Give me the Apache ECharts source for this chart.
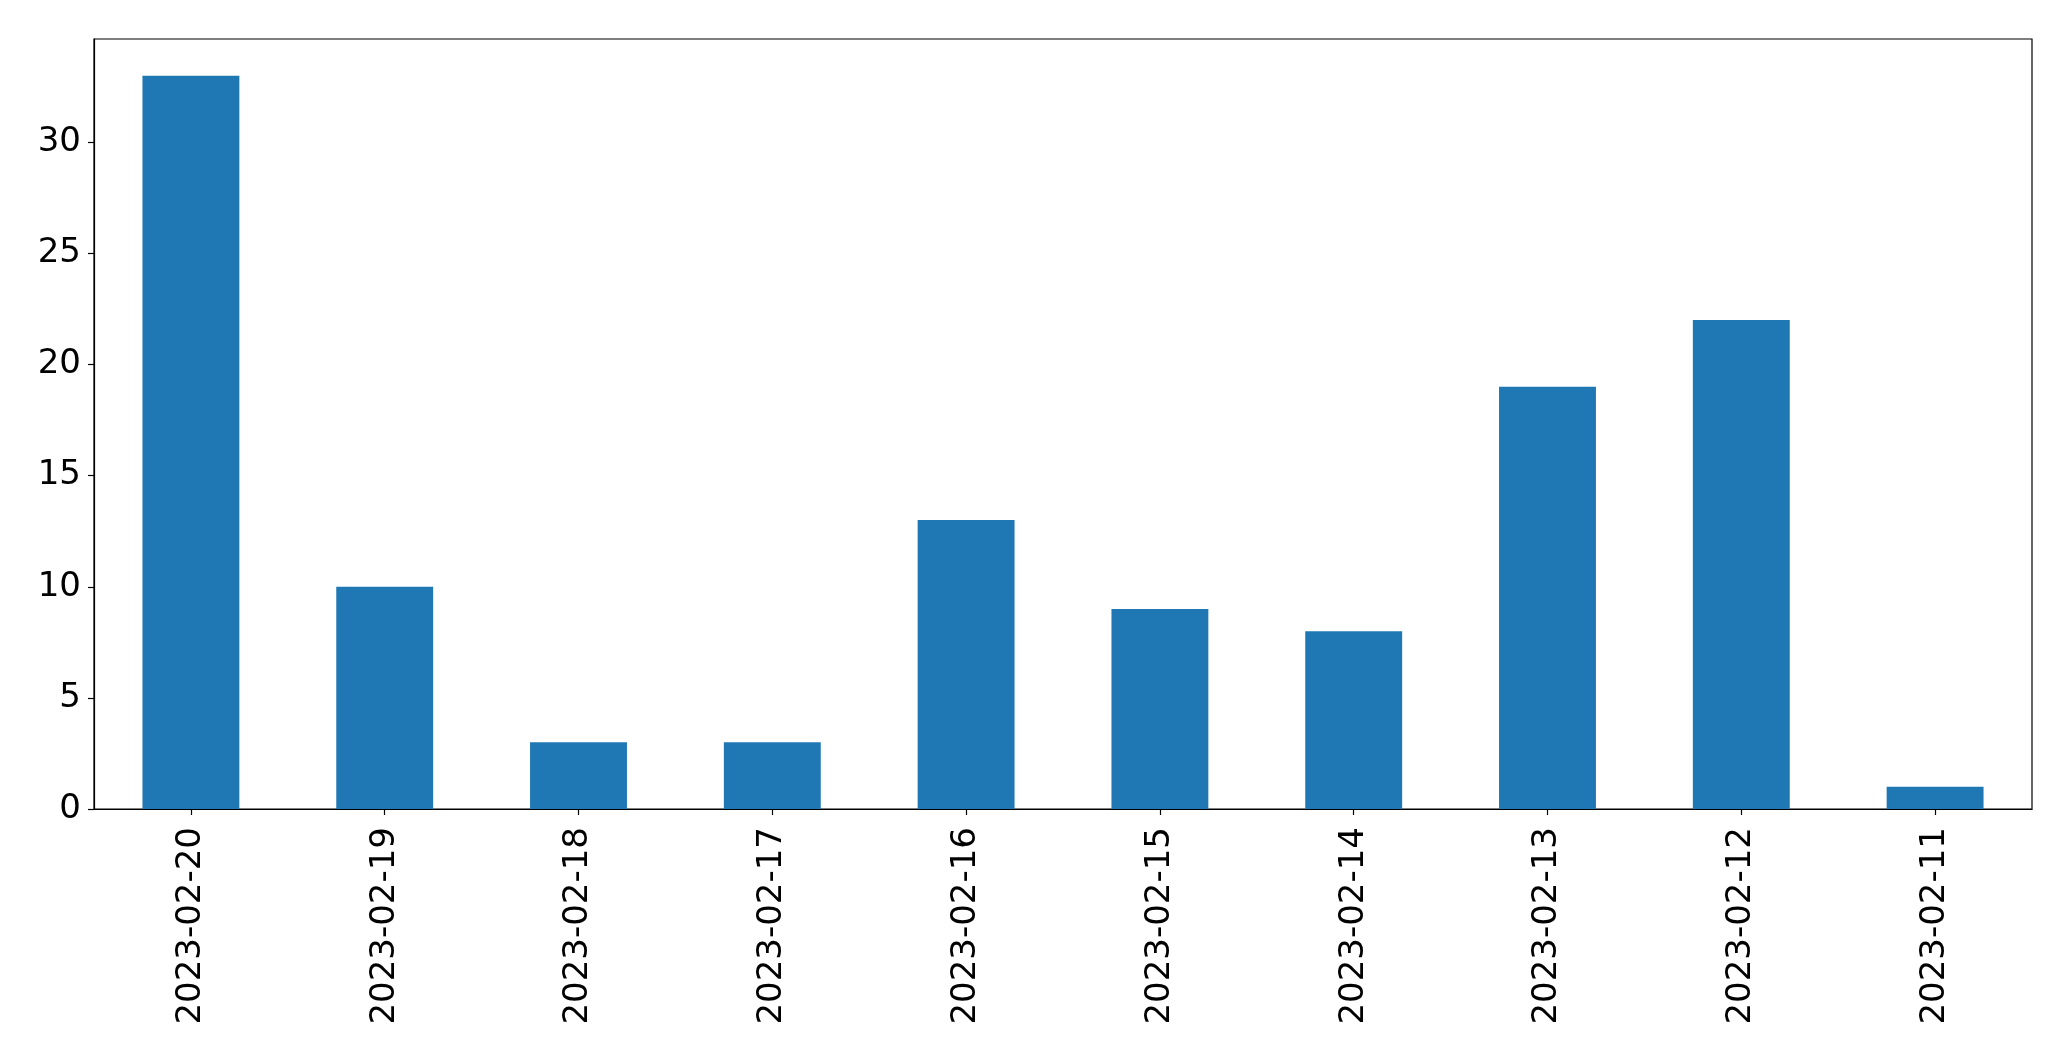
<!DOCTYPE html>
<html>
<head>
<meta charset="utf-8">
<script src="https://cdn.jsdelivr.net/npm/echarts@6/dist/echarts.min.js"></script>
<style>
html,body{margin:0;padding:0;background:#fff;}
#chart{width:2071px;height:1061px;}
</style>
</head>
<body>
<div id="chart"></div>
<script>
const categories = ['2023-02-20','2023-02-19','2023-02-18','2023-02-17','2023-02-16','2023-02-15','2023-02-14','2023-02-13','2023-02-12','2023-02-11'];
const counts = [33, 10, 3, 3, 13, 9, 8, 19, 22, 1];
const yTicks = [0, 5, 10, 15, 20, 25, 30];

const chart = echarts.init(document.getElementById('chart'));
const font = 'DejaVu Sans';
chart.setOption({
  animation: false,
  backgroundColor: '#ffffff',
  grid: {
    left: 94, top: 39, right: 39, bottom: 252,
    show: true, borderColor: '#000', borderWidth: 1.2, backgroundColor: 'transparent'
  },
  xAxis: {
    type: 'category',
    data: categories,
    boundaryGap: true,
    axisLine: { show: true, lineStyle: { color: '#000', width: 1.2 } },
    axisTick: { show: true, alignWithLabel: true, length: 6, lineStyle: { color: '#000', width: 1.2 } },
    axisLabel: { rotate: 90, margin: 18, fontFamily: font, fontSize: 34, color: '#000' },
    splitLine: { show: false }
  },
  yAxis: {
    type: 'value',
    min: 0,
    max: 34.65,
    interval: 5,
    axisLine: { show: true, lineStyle: { color: '#000', width: 1.2 } },
    axisTick: { show: true, length: 6, customValues: yTicks, lineStyle: { color: '#000', width: 1.2 } },
    axisLabel: { margin: 13, fontFamily: font, fontSize: 34, color: '#000', customValues: yTicks },
    splitLine: { show: false }
  },
  series: [{
    type: 'bar',
    data: counts,
    barWidth: '50%',
    itemStyle: { color: '#1f77b4' }
  }]
});
</script>
</body>
</html>
